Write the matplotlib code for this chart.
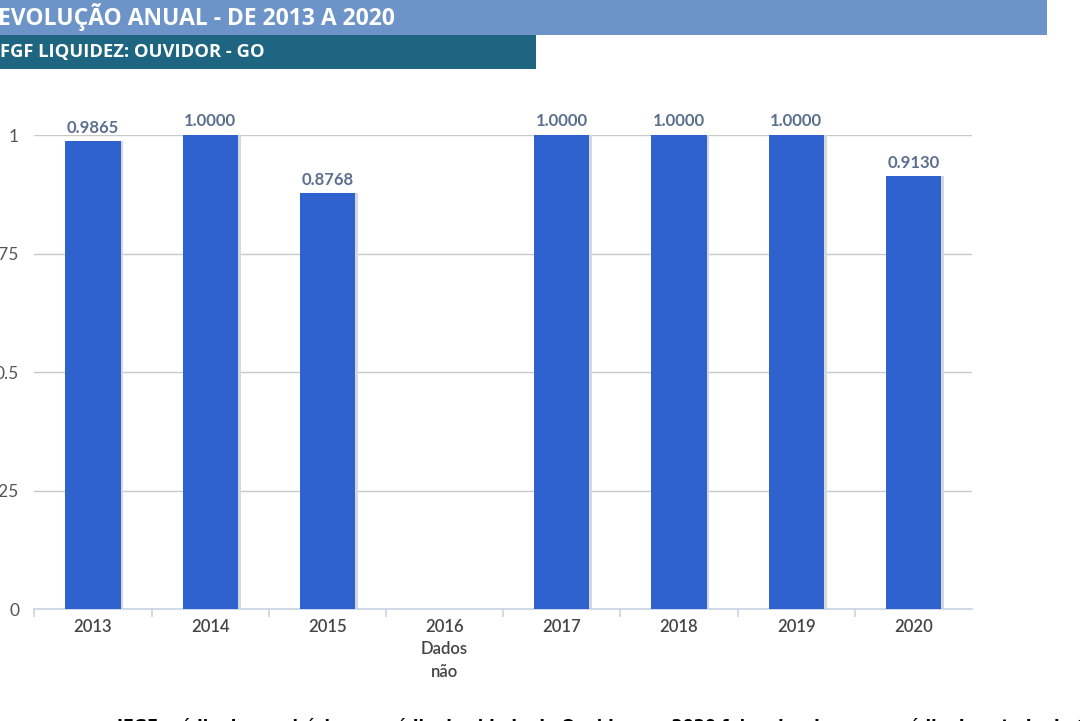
import matplotlib
matplotlib.use("Agg")
import matplotlib.pyplot as plt
from matplotlib.patches import Rectangle

years = ["2013", "2014", "2015", "2016\nDados\nnão", "2017", "2018", "2019", "2020"]
values = [0.9865, 1.0000, 0.8768, None, 1.0000, 1.0000, 1.0000, 0.9130]
yticks = [0, 0.25, 0.5, 0.75, 1]
ytick_labels = ["0", "0.25", "0.5", "0.75", "1"]

title1 = "EVOLUÇÃO ANUAL - DE 2013 A 2020"
title2 = "FGF LIQUIDEZ: OUVIDOR - GO"
footer = "IFGF médio do município e a média da cidade de Ouvidor em 2020 foi maior do que a média do estado de Goiás"

plt.rcParams['font.family'] = ['Lato', 'DejaVu Sans']

W, H = 1080, 721
fig = plt.figure(figsize=(W/100, H/100), dpi=100)

# header bands
fig.patches.append(Rectangle((0, 1 - 35/H), 1047/W, 35/H, transform=fig.transFigure,
                             facecolor="#6c94c9", edgecolor="none", zorder=0))
fig.patches.append(Rectangle((0, 1 - 69/H), 536/W, 34/H, transform=fig.transFigure,
                             facecolor="#1d6580", edgecolor="none", zorder=0))
fig.text(-2/W, 1 - 17/H, title1, color="white", fontsize=16.5, fontweight="bold",
         va="center", ha="left", family=["Open Sans", "DejaVu Sans"])
fig.text(0/W, 1 - 52/H, title2, color="white", fontsize=13.2, fontweight="bold",
         va="center", ha="left", family=["Open Sans", "DejaVu Sans"])

left, right = 34.4/W, 972/W
bottom = (H - 609)/H
top = (H - 135)/H
ax = fig.add_axes([left, bottom, right - left, top - bottom])

xs = list(range(len(years)))
bw = 0.47
for x, v in zip(xs, values):
    if v is None:
        continue
    ax.bar(x + 0.025, v, width=bw, color="#d4d8de", zorder=2)
    ax.bar(x, v, width=bw, color="#2f62cf", zorder=3)
    ax.text(x, v + 0.012, f"{v:.4f}", ha="center", va="bottom", fontsize=12,
            color="#5b6f8e", fontweight="bold", clip_on=False)

ax.set_xlim(-0.5, len(years) - 0.5)
ax.set_ylim(0, 1)
ax.set_yticks(yticks)
ax.set_yticklabels(ytick_labels)
ax.yaxis.grid(True, color="#c9c9c9", linewidth=1, zorder=0)
ax.set_axisbelow(True)
for s in ["top", "right", "left"]:
    ax.spines[s].set_visible(False)
ax.spines["bottom"].set_color("#c8d3e3")
ax.spines["bottom"].set_linewidth(1.2)
ax.tick_params(axis="y", length=0, pad=11, labelsize=12.5, labelcolor="#555555")

ax.set_xticks(xs)
ax.set_xticklabels(years, fontsize=12, color="#444444", linespacing=1.5, fontweight="semibold")
ax.tick_params(axis="x", length=0, pad=7)
ax.set_xticks([x + 0.5 for x in xs[:-1]] + [-0.5], minor=True)
ax.tick_params(axis="x", which="minor", length=6, color="#c8d3e3", width=1.2)

fig.text(117/W, -10/H, footer, fontsize=11.5, color="black", va="baseline", ha="left",
         fontweight="bold", family=["DejaVu Sans"])

fig.savefig("out.png", dpi=100)
